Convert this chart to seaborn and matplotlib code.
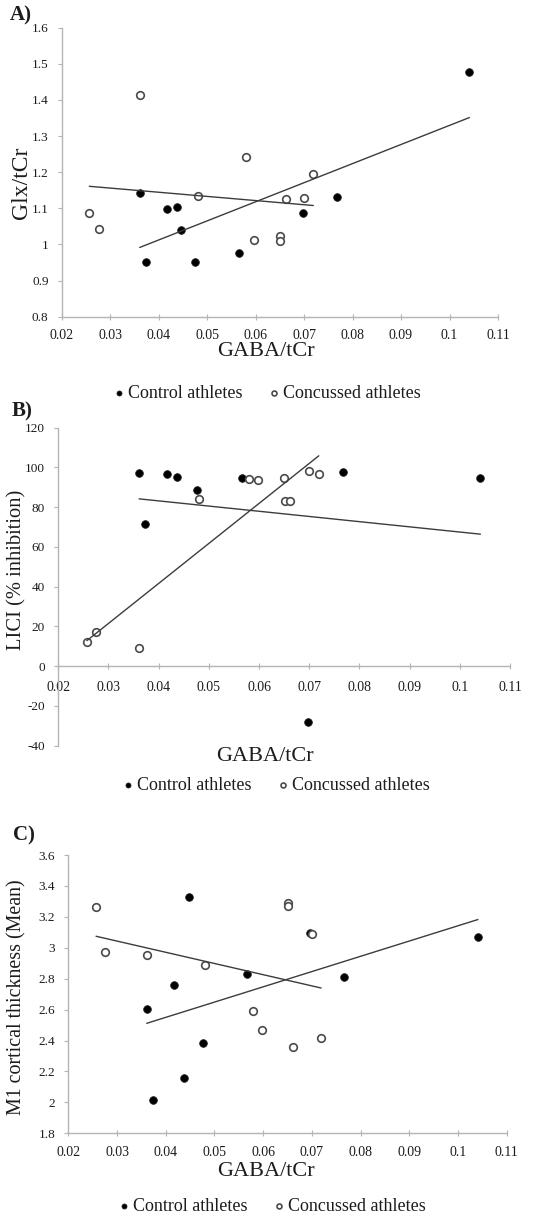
import numpy as np
import pandas as pd
import matplotlib
matplotlib.use("Agg")
import matplotlib.pyplot as plt
from matplotlib.ticker import FuncFormatter
import seaborn as sns

# ---------------- data ----------------
control_gaba = [0.0361, 0.0373, 0.0417, 0.0437, 0.0447, 0.0476, 0.0566, 0.0697, 0.0767, 0.1041]
concussed_gaba = [0.0257, 0.0276, 0.0361, 0.0481, 0.0580, 0.0597, 0.0650, 0.0651, 0.0662, 0.0700, 0.0719]

control_glx = [1.143, 0.952, 1.098, 1.104, 1.040, 0.952, 0.976, 1.086, 1.131, 1.478]
concussed_glx = [1.088, 1.042, 1.415, 1.135, 1.242, 1.011, 1.024, 1.009, 1.125, 1.128, 1.194]

control_lici = [97.0, 71.7, 96.9, 95.2, np.nan, 88.6, 94.7, -28.0, 97.7, 94.7]
concussed_lici = [12.3, 17.0, 9.3, 84.3, 94.0, 93.7, 94.9, 83.1, 83.1, 98.4, 96.8]

control_thick = [2.602, 2.016, 2.762, 2.160, 3.328, 2.382, 2.831, 3.098, 2.809, 3.072]
concussed_thick = [3.266, 2.973, 2.956, 2.889, 2.594, 2.469, 3.290, 3.268, 2.357, 3.091, 2.415]

x_ticks = [0.02, 0.03, 0.04, 0.05, 0.06, 0.07, 0.08, 0.09, 0.1, 0.11]
y_ticks_a = [0.8, 0.9, 1.0, 1.1, 1.2, 1.3, 1.4, 1.5, 1.6]
y_ticks_b = [-40, -20, 0, 20, 40, 60, 80, 100, 120]
y_ticks_c = [1.8, 2.0, 2.2, 2.4, 2.6, 2.8, 3.0, 3.2, 3.4, 3.6]

x_label = "GABA/tCr"
y_labels = ["Glx/tCr", "LICI (% inhibition)", "M1 cortical thickness (Mean)"]
panel_labels = ["A)", "B)", "C)"]
group_labels = ["Control athletes", "Concussed athletes"]

# ---------------- style ----------------
sns.set_theme(style="white")
plt.rcParams["font.family"] = ["Liberation Serif", "DejaVu Serif"]

W, H = 534, 1218
fig = plt.figure(figsize=(W / 100, H / 100), dpi=100)


def frac_rect(left, right, top, bottom):
    return [left / W, 1 - bottom / H, (right - left) / W, (bottom - top) / H]


def fx(px):
    return px / W


def fy(py):
    return 1 - py / H


panels = [
    dict(rect=frac_rect(61.7, 498, 27.7, 316.7), yc=control_glx, yk=concussed_glx, yt=y_ticks_a,
         ylab=y_labels[0], ylab_size=17, ylab_xy=(21, 183), xlab_xy=(266, 351.5),
         leg=(266, 393), plab=(10, 15.5), spine0=False, xpad=7),
    dict(rect=frac_rect(58.3, 510, 427.7, 745.7), yc=control_lici, yk=concussed_lici, yt=y_ticks_b,
         ylab=y_labels[1], ylab_size=14.8, ylab_xy=(17, 570), xlab_xy=(265, 756.5),
         leg=(275, 785), plab=(11.5, 411.5), spine0=True, xpad=9),
    dict(rect=frac_rect(68.3, 506.7, 855, 1133.3), yc=control_thick, yk=concussed_thick, yt=y_ticks_c,
         ylab=y_labels[2], ylab_size=14.4, ylab_xy=(17, 997), xlab_xy=(266, 1171.5),
         leg=(271, 1206.5), plab=(13, 835), spine0=False, xpad=7),
]

fmt = FuncFormatter(lambda v, p: "{:g}".format(round(v, 4)))
spine_col = "#b4b4b4"
line_col = "#3c3c3c"
text_col = "#1c1c1c"

for p in panels:
    ax = fig.add_axes(p["rect"])
    df_c = pd.DataFrame({"gaba": control_gaba, "val": p["yc"]}).dropna()
    df_k = pd.DataFrame({"gaba": concussed_gaba, "val": p["yk"]}).dropna()

    sns.scatterplot(data=df_c, x="gaba", y="val", ax=ax, color="black", s=30,
                    edgecolor="#1a1a1a", linewidth=0.6, label=group_labels[0], zorder=2)
    sns.scatterplot(data=df_k, x="gaba", y="val", ax=ax, color="white", s=30,
                    edgecolor="#4a4a4a", linewidth=1.2, label=group_labels[1], zorder=2)
    sns.regplot(data=df_c, x="gaba", y="val", ax=ax, scatter=False, ci=None, truncate=True,
                line_kws=dict(color=line_col, lw=1.0, zorder=3))
    sns.regplot(data=df_k, x="gaba", y="val", ax=ax, scatter=False, ci=None, truncate=True,
                line_kws=dict(color=line_col, lw=1.0, zorder=3))

    ax.set_xlim(x_ticks[0], x_ticks[-1])
    ax.set_ylim(p["yt"][0], p["yt"][-1])
    ax.set_xticks(x_ticks)
    ax.set_yticks(p["yt"])
    ax.xaxis.set_major_formatter(fmt)
    ax.yaxis.set_major_formatter(fmt)
    ax.tick_params(axis="y", direction="out", length=3, width=0.8, color=spine_col, labelsize=9.5,
                   labelcolor=text_col, pad=6.5, left=True)
    ax.tick_params(axis="x", direction="inout", length=4, width=0.8, color=spine_col, labelsize=10,
                   labelcolor=text_col, pad=p["xpad"], bottom=True)
    for s in ["top", "right"]:
        ax.spines[s].set_visible(False)
    for s in ["left", "bottom"]:
        ax.spines[s].set_color(spine_col)
        ax.spines[s].set_linewidth(1.0)
    if p["spine0"]:
        ax.spines["bottom"].set_position(("data", 0))

    ax.set_ylabel(p["ylab"], fontsize=p["ylab_size"], color=text_col)
    ax.yaxis.label.set_va("center")
    ax.yaxis.set_label_coords(fx(p["ylab_xy"][0]), fy(p["ylab_xy"][1]), transform=fig.transFigure)
    ax.set_xlabel(x_label, fontsize=16, color=text_col)
    ax.xaxis.label.set_va("center")
    ax.xaxis.set_label_coords(fx(p["xlab_xy"][0]), fy(p["xlab_xy"][1]), transform=fig.transFigure)
    ax.grid(False)

    handles, labels = ax.get_legend_handles_labels()
    ax.legend(handles, labels, loc="center", bbox_to_anchor=(fx(p["leg"][0]), fy(p["leg"][1])),
              bbox_transform=fig.transFigure, ncol=2, frameon=False, fontsize=13,
              handletextpad=0.05, columnspacing=1.3, markerscale=0.65, borderpad=0,
              handlelength=0.9, labelcolor=text_col)

for p, lab in zip(panels, panel_labels):
    fig.text(fx(p["plab"][0]), fy(p["plab"][1]), lab, ha="left", va="center",
             fontsize=15, fontweight="bold", color=text_col)

fig.savefig("out.png", dpi=100, facecolor="white")
